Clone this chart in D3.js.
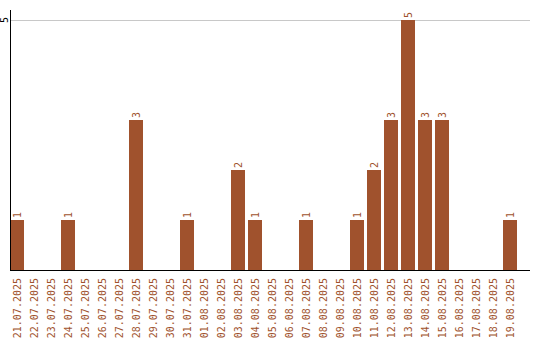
<!DOCTYPE html>
<html>
<head>
<meta charset="utf-8">
<script src="https://cdn.jsdelivr.net/npm/d3@7"></script>
<style>
  body { margin: 0; background: #fff; }
  text { font-family: "DejaVu Sans Mono", monospace; font-size: 10px; }
</style>
</head>
<body>
<script>
// Data
const dates = [
  "21.07.2025", "22.07.2025", "23.07.2025", "24.07.2025", "25.07.2025",
  "26.07.2025", "27.07.2025", "28.07.2025", "29.07.2025", "30.07.2025",
  "31.07.2025", "01.08.2025", "02.08.2025", "03.08.2025", "04.08.2025",
  "05.08.2025", "06.08.2025", "07.08.2025", "08.08.2025", "09.08.2025",
  "10.08.2025", "11.08.2025", "12.08.2025", "13.08.2025", "14.08.2025",
  "15.08.2025", "16.08.2025", "17.08.2025", "18.08.2025", "19.08.2025",
];
const counts = [1, 0, 0, 1, 0, 0, 0, 3, 0, 0, 1, 0, 0, 2, 1, 0, 0, 1, 0, 0, 1, 2, 3, 5, 3, 3, 0, 0, 0, 1];
const yTicks = [5];

const color = "#a0522d";
const width = 540;
const height = 340;
const plot = { left: 10, right: 530, top: 10, bottom: 270 };

const svg = d3
  .select("body")
  .append("svg")
  .attr("width", width)
  .attr("height", height);

// scales
const xScale = d3
  .scaleBand()
  .domain(dates)
  .range([plot.left, plot.left + 30 * 17 - 3])
  .paddingInner(3 / 17)
  .paddingOuter(0);

const yScale = d3.scaleLinear().domain([0, 5.2]).range([plot.bottom, plot.top]);

// gridlines
svg
  .selectAll(".grid")
  .data(yTicks)
  .enter()
  .append("line")
  .attr("x1", plot.left)
  .attr("x2", plot.right)
  .attr("y1", (d) => Math.round(yScale(d)) + 0.5)
  .attr("y2", (d) => Math.round(yScale(d)) + 0.5)
  .attr("stroke", "#c8c8c8")
  .attr("stroke-width", 1);

// bars
const data = dates.map((d, i) => ({ date: d, value: counts[i] }));

svg
  .selectAll(".bar")
  .data(data)
  .enter()
  .append("rect")
  .attr("class", "bar")
  .attr("x", (d) => xScale(d.date))
  .attr("y", (d) => yScale(d.value))
  .attr("width", xScale.bandwidth())
  .attr("height", (d) => plot.bottom - yScale(d.value))
  .attr("fill", color);

// value labels
svg
  .selectAll(".val")
  .data(data.filter((d) => d.value > 0))
  .enter()
  .append("text")
  .attr("fill", color)
  .attr("text-anchor", "start")
  .attr("dy", "0.35em")
  .attr("transform", (d) =>
    "translate(" + (xScale(d.date) + xScale.bandwidth() / 2) + "," + (yScale(d.value) - 2) + ") rotate(-90)")
  .text((d) => d.value);

// x axis labels
svg
  .selectAll(".xl")
  .data(dates)
  .enter()
  .append("text")
  .attr("fill", color)
  .attr("text-anchor", "end")
  .attr("dy", "0.35em")
  .attr("transform", (d) =>
    "translate(" + (xScale(d) + xScale.bandwidth() / 2) + "," + (plot.bottom + 8) + ") rotate(-90)")
  .text((d) => d);

// y tick labels
svg
  .selectAll(".yl")
  .data(yTicks)
  .enter()
  .append("text")
  .attr("fill", "#000")
  .attr("text-anchor", "middle")
  .attr("dy", "0.35em")
  .attr("transform", (d) => "translate(4," + yScale(d) + ") rotate(-90)")
  .text((d) => d);

// axes lines
svg
  .append("line")
  .attr("x1", plot.left + 0.5)
  .attr("x2", plot.left + 0.5)
  .attr("y1", plot.top)
  .attr("y2", plot.bottom + 1)
  .attr("stroke", "#000");

svg
  .append("line")
  .attr("x1", plot.left)
  .attr("x2", plot.right)
  .attr("y1", plot.bottom + 0.5)
  .attr("y2", plot.bottom + 0.5)
  .attr("stroke", "#000");
</script>
</body>
</html>
